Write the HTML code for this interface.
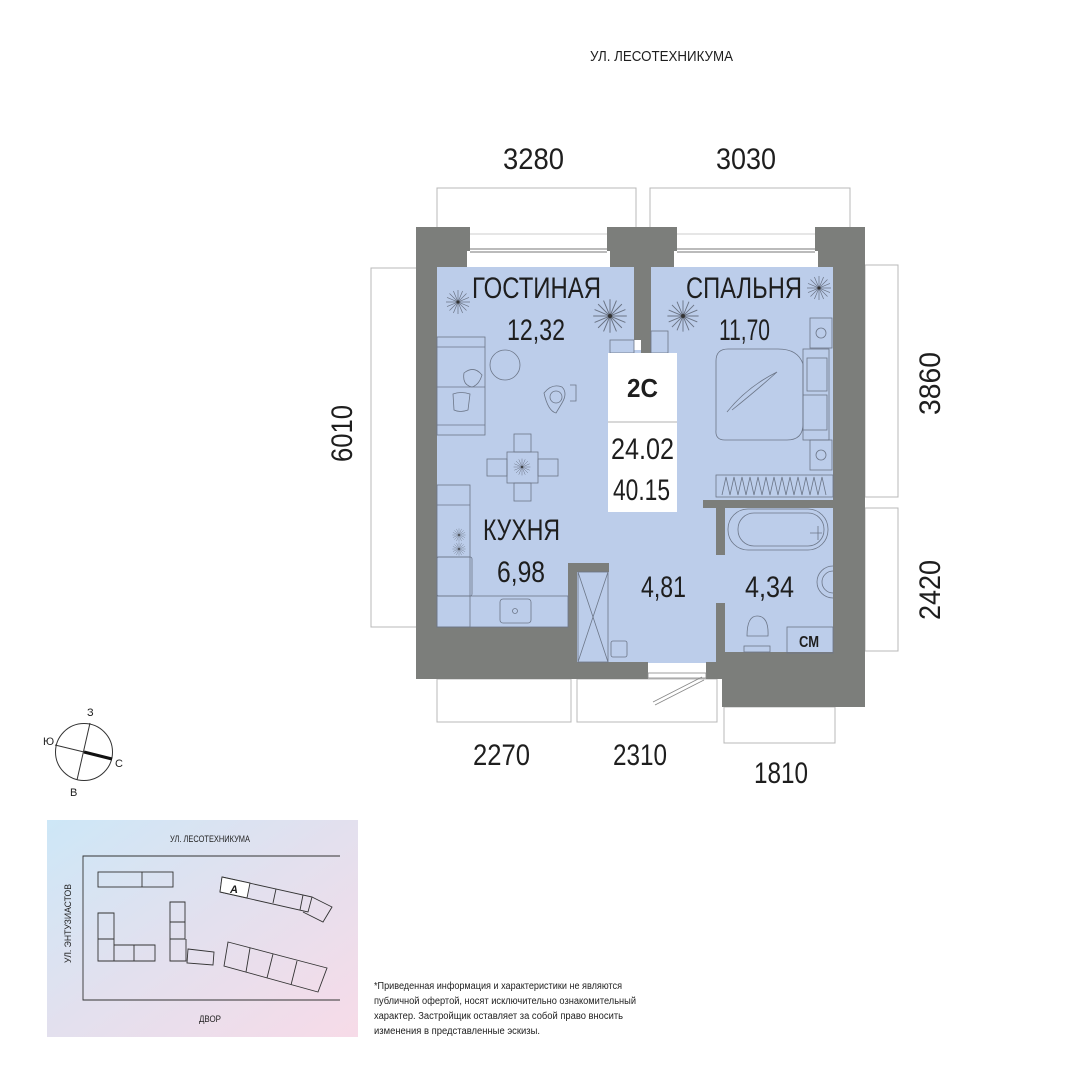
<!DOCTYPE html>
<html><head><meta charset="utf-8"><style>
html,body{margin:0;padding:0;background:#fff}
svg{display:block}
text{font-family:"Liberation Sans",sans-serif;fill:#1e1e1e}
</style></head><body>
<svg width="1081" height="1080" viewBox="0 0 1081 1080" xmlns="http://www.w3.org/2000/svg">
<defs>
<linearGradient id="g" x1="0" y1="0" x2="1" y2="1">
<stop offset="0" stop-color="#cde7f7"/><stop offset="0.5" stop-color="#e3e0ee"/><stop offset="1" stop-color="#f7dbe8"/>
</linearGradient>
<g id="star"><g stroke="#6a7384" stroke-width="0.7" fill="none">
<path d="M0-12L0 12M-12 0L12 0M-8.5-8.5L8.5 8.5M-8.5 8.5L8.5-8.5M-4.6-11L4.6 11M4.6-11L-4.6 11M-11-4.6L11 4.6M-11 4.6L11-4.6"/></g><circle r="1.5" fill="#333"/></g>
</defs>
<rect width="1081" height="1080" fill="#fff"/>

<text x="590" y="61" font-size="15" textLength="143" lengthAdjust="spacingAndGlyphs">УЛ. ЛЕСОТЕХНИКУМА</text>

<!-- dimension outlines -->
<g fill="none" stroke="#b8b8b8" stroke-width="1">
<rect x="437" y="188" width="199" height="46"/>
<rect x="650" y="188" width="200" height="46"/>
<rect x="371" y="268" width="46" height="359"/>
<rect x="865" y="265" width="33" height="232"/>
<rect x="865" y="508" width="33" height="143"/>
<rect x="437" y="679" width="134" height="43"/>
<rect x="577" y="679" width="140" height="43"/>
<rect x="724" y="707" width="111" height="36"/>
</g>

<!-- dimension text -->
<g font-size="30">
<text x="503" y="169" textLength="61" lengthAdjust="spacingAndGlyphs">3280</text>
<text x="716" y="169" textLength="60" lengthAdjust="spacingAndGlyphs">3030</text>
<text x="473" y="765" textLength="57" lengthAdjust="spacingAndGlyphs">2270</text>
<text x="613" y="765" textLength="54" lengthAdjust="spacingAndGlyphs">2310</text>
<text x="754" y="783" textLength="54" lengthAdjust="spacingAndGlyphs">1810</text>
<text transform="translate(352,462) rotate(-90)" textLength="57" lengthAdjust="spacingAndGlyphs">6010</text>
<text transform="translate(940,415) rotate(-90)" textLength="63" lengthAdjust="spacingAndGlyphs">3860</text>
<text transform="translate(940,620) rotate(-90)" textLength="60" lengthAdjust="spacingAndGlyphs">2420</text>
</g>

<!-- floor -->
<g fill="#bccdea">
<rect x="437" y="267" width="197" height="360"/>
<rect x="651" y="267" width="182" height="386"/>
<rect x="577" y="350" width="140" height="313"/>
<rect x="608" y="560" width="109" height="103"/>
</g>
<!-- window zone white -->
<rect x="470" y="234" width="137" height="33" fill="#fff"/>
<rect x="677" y="234" width="138" height="33" fill="#fff"/>
<g stroke="#777" stroke-width="1" fill="none">
<line x1="470" y1="249" x2="607" y2="249"/><line x1="470" y1="252" x2="607" y2="252"/>
<line x1="677" y1="249" x2="815" y2="249"/><line x1="677" y1="252" x2="815" y2="252"/>
<line x1="470" y1="234" x2="607" y2="234" stroke="#ccc"/>
<line x1="677" y1="234" x2="815" y2="234" stroke="#ccc"/>
</g>

<!-- walls -->
<g fill="#7c7e7b">
<rect x="416" y="227" width="54" height="24"/>
<rect x="416" y="227" width="21" height="452"/>
<rect x="416" y="251" width="51" height="16"/>
<rect x="607" y="227" width="70" height="24"/>
<rect x="610" y="251" width="64" height="16"/>
<rect x="634" y="251" width="17" height="89"/>
<rect x="641" y="340" width="10" height="13"/>
<rect x="815" y="227" width="50" height="24"/>
<rect x="818" y="251" width="47" height="16"/>
<rect x="833" y="251" width="32" height="456"/>
<rect x="416" y="627" width="161" height="52"/>
<rect x="568" y="563" width="41" height="9"/>
<rect x="568" y="563" width="9" height="116"/>
<rect x="568" y="662" width="80" height="17"/>
<rect x="703" y="500" width="130" height="8"/>
<rect x="716" y="500" width="9" height="55"/>
<rect x="716" y="603" width="9" height="50"/>
<rect x="716" y="652" width="149" height="27"/>
<rect x="706" y="662" width="19" height="17"/>
<rect x="722" y="679" width="143" height="28"/>
</g>
<!-- door -->
<g stroke="#888" fill="none" stroke-width="0.8">
<rect x="648" y="673" width="58" height="5" fill="#fff"/>
<path d="M704 680 L655 705 M702 677 L653 702"/>
</g>

<!-- furniture -->
<g fill="none" stroke="#6c7688" stroke-width="0.8">
<rect x="437" y="337" width="48" height="98"/>
<line x1="437" y1="347" x2="485" y2="347"/><line x1="437" y1="387" x2="485" y2="387"/><line x1="437" y1="425" x2="485" y2="425"/>
<path d="M464 373 q10-8 18 2 q-3 10-10 12 q-10-2-8-14z"/>
<path d="M453 394 q8-3 17 0 l-2 16 q-8 3-14 0z"/>
<circle cx="505" cy="365" r="15"/>
<path d="M544 393 q8-10 18-6 q6 6 0 16 l-6 10 q-8-2-12-20z"/><circle cx="556" cy="397" r="6"/>
<path d="M570 385 l6 0 0 16-6 0"/>
<rect x="507" y="452" width="31" height="31"/>
<rect x="514" y="434" width="17" height="18"/><rect x="514" y="483" width="17" height="18"/>
<rect x="487" y="459" width="20" height="17"/><rect x="538" y="459" width="20" height="17"/>
<rect x="437" y="485" width="33" height="142"/>
<line x1="437" y1="505" x2="470" y2="505"/><line x1="437" y1="557" x2="470" y2="557"/>
<rect x="437" y="557" width="35" height="39" rx="2"/>
<rect x="437" y="596" width="131" height="31"/>
<rect x="500" y="599" width="31" height="24" rx="3"/><circle cx="515" cy="611" r="2.5"/>
<rect x="578" y="572" width="30" height="90"/><path d="M578 572 L608 662 M608 572 L578 662"/>
<rect x="611" y="641" width="16" height="16" rx="2"/>
<rect x="610" y="340" width="24" height="13"/><rect x="651" y="331" width="17" height="22"/>
<path d="M716 361 q0-12 12-12 h50 q20 0 25 15 v60 q0 16-16 16 h-62 q-10 0-9-10z"/>
<path d="M727 412 q20-25 50-40 q-20 18-45 38"/>
<rect x="807" y="358" width="20" height="33"/><rect x="803" y="395" width="24" height="35"/>
<rect x="803" y="349" width="26" height="91"/>
<rect x="810" y="318" width="22" height="30"/><circle cx="821" cy="333" r="5"/>
<rect x="810" y="440" width="22" height="30"/><circle cx="821" cy="455" r="5"/>
<rect x="716" y="475" width="117" height="22"/>
<path d="M722 495 l4-18 4 18 4-18 4 18 4-18 4 18 4-18 4 18 4-18 4 18 4-18 4 18 4-18 4 18 4-18 4 18 4-18 4 18 4-18 4 18 4-18 4 18 4-18 4 18 4-18 4 18"/>
<rect x="728" y="509" width="100" height="41" rx="20"/>
<rect x="738" y="513" width="86" height="33" rx="16"/>
<path d="M810 533 h12 M818 526 v14"/>
<path d="M833 566 a16 16 0 0 0 0 32"/><path d="M833 571 a11 11 0 0 0 0 22"/>
<path d="M747 636 q0-20 10-20 q12 0 11 20 z"/><rect x="744" y="646" width="26" height="6"/>
<rect x="787" y="627" width="46" height="26"/>
</g>
<use href="#star" x="458" y="302"/>
<use href="#star" x="610" y="316" transform="translate(610 316) scale(1.4) translate(-610 -316)"/>
<use href="#star" x="683" y="316" transform="translate(683 316) scale(1.3) translate(-683 -316)"/>
<use href="#star" x="819" y="288"/>
<use href="#star" x="522" y="467" transform="translate(522 467) scale(0.7) translate(-522 -467)"/>
<use href="#star" x="459" y="535" transform="translate(459 535) scale(0.55) translate(-459 -535)"/>
<use href="#star" x="459" y="549" transform="translate(459 549) scale(0.55) translate(-459 -549)"/>

<!-- 2C box -->
<rect x="608" y="353" width="69" height="159" fill="#fff"/>
<line x1="608" y1="422" x2="677" y2="422" stroke="#999" stroke-width="0.8"/>

<!-- room labels -->
<g font-size="30">
<text x="472" y="298" textLength="129" lengthAdjust="spacingAndGlyphs">ГОСТИНАЯ</text>
<text x="507" y="340" textLength="58" lengthAdjust="spacingAndGlyphs">12,32</text>
<text x="686" y="298" textLength="116" lengthAdjust="spacingAndGlyphs">СПАЛЬНЯ</text>
<text x="719" y="340" textLength="51" lengthAdjust="spacingAndGlyphs">11,70</text>
<text x="611" y="459" textLength="63" lengthAdjust="spacingAndGlyphs">24.02</text>
<text x="613" y="500" textLength="57" lengthAdjust="spacingAndGlyphs">40.15</text>
<text x="483" y="540" textLength="77" lengthAdjust="spacingAndGlyphs">КУХНЯ</text>
<text x="497" y="582" textLength="48" lengthAdjust="spacingAndGlyphs">6,98</text>
<text x="641" y="597" textLength="45" lengthAdjust="spacingAndGlyphs">4,81</text>
<text x="745" y="597" textLength="49" lengthAdjust="spacingAndGlyphs">4,34</text>
</g>
<text x="627" y="397" font-size="26" font-weight="bold" textLength="31" lengthAdjust="spacingAndGlyphs">2С</text>
<text x="799" y="647" font-size="16" font-weight="bold" textLength="20" lengthAdjust="spacingAndGlyphs">СМ</text>

<!-- compass -->
<g fill="none" stroke="#333" stroke-width="1">
<circle cx="84" cy="752" r="28.5"/>
<line x1="90" y1="723" x2="77" y2="780"/>
<line x1="55" y1="745" x2="84" y2="752"/>
</g>
<line x1="84" y1="752" x2="112" y2="759" stroke="#111" stroke-width="3"/>
<g font-size="11">
<text x="87" y="716">З</text><text x="43" y="745">Ю</text><text x="115" y="767">С</text><text x="70" y="796">В</text>
</g>

<!-- minimap -->
<rect x="47" y="820" width="311" height="217" fill="url(#g)"/>
<text x="170" y="842" font-size="9" textLength="80" lengthAdjust="spacingAndGlyphs">УЛ. ЛЕСОТЕХНИКУМА</text>
<text x="199" y="1022" font-size="9" textLength="22" lengthAdjust="spacingAndGlyphs">ДВОР</text>
<text transform="translate(71,963) rotate(-90)" font-size="9" textLength="79" lengthAdjust="spacingAndGlyphs">УЛ. ЭНТУЗИАСТОВ</text>
<g fill="none" stroke="#333" stroke-width="0.9">
<path d="M340 856 H83 V1000 H340"/>
<rect x="98" y="872" width="75" height="15"/><line x1="142" y1="872" x2="142" y2="887"/>
<path d="M98 913 h16 v32 h41 v16 h-57z M98 939 h16 M114 945 v16 M134 945 v16"/>
<path d="M170 902 h15 v37 h-15z M170 922 h15 M170 939 v22 h16 v-22"/>
<path d="M188 949 l26 3 -1 13 -26-2z"/>
<path d="M222 877 l90 20 -4 15 -88 -20z" />
<path d="M222 877 l28 6 -3 15 -27 -6z" fill="#fff"/>
<path d="M276 889 l-3 14 M303 895 l-3 15"/>
<path d="M312 897 l20 10 -9 15 -20 -10"/>
<path d="M228 942 l99 26 -9 24 -94 -26z M250 948 l-4 24 M273 954 l-6 24 M297 961 l-6 24"/>
</g>
<text x="230" y="893" font-size="11" font-style="italic" font-weight="bold">А</text>

<!-- disclaimer -->
<g font-size="10" fill="#222">
<text x="374" y="989" textLength="248" lengthAdjust="spacingAndGlyphs">*Приведенная информация и характеристики не являются</text>
<text x="374" y="1004" textLength="262" lengthAdjust="spacingAndGlyphs">публичной офертой, носят исключительно ознакомительный</text>
<text x="374" y="1019" textLength="249" lengthAdjust="spacingAndGlyphs">характер. Застройщик оставляет за собой право вносить</text>
<text x="374" y="1034" textLength="166" lengthAdjust="spacingAndGlyphs">изменения в представленные эскизы.</text>
</g>
</svg>
</body></html>
